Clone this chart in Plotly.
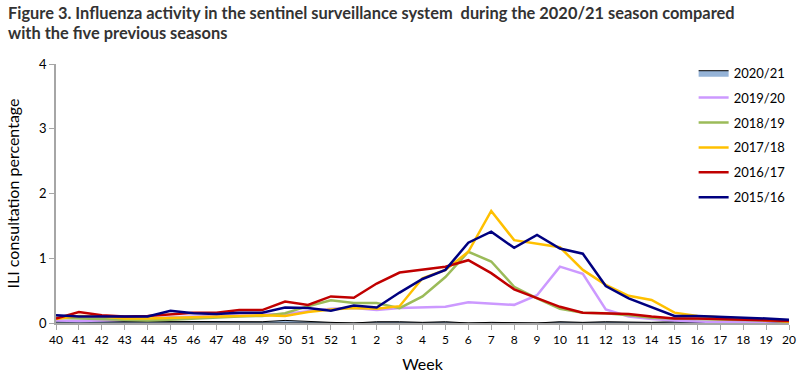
import plotly.graph_objects as go

weeks = ["40","41","42","43","44","45","46","47","48","49","50","51","52",
         "1","2","3","4","5","6","7","8","9","10","11","12","13","14","15","16","17","18","19","20"]

s2020_21 = [0.03,0.03,0.03,0.02,0.02,0.02,0.02,0.02,0.02,0.02,0.04,0.02,0.01,
            0.0,0.02,0.02,0.01,0.02,0.0,0.01,0.01,0.0,0.02,0.01,0.02,0.01,0.01,0.02,0.01,0.01,0.01,0.01,0.0]
s2019_20 = [0.04,0.03,0.04,0.05,0.06,0.09,0.10,0.11,0.12,0.13,0.14,0.18,0.22,
            0.23,0.20,0.23,0.24,0.25,0.32,0.30,0.28,0.43,0.87,0.76,0.21,0.10,0.06,0.04,0.02,0.01,0.01,0.02,0.03]
s2018_19 = [0.08,0.07,0.05,0.04,0.04,0.05,0.07,0.08,0.10,0.11,0.15,0.26,0.35,
            0.31,0.31,0.23,0.41,0.71,1.10,0.95,0.56,0.38,0.22,0.16,0.15,0.12,0.08,0.07,0.06,0.05,0.05,0.04,0.03]
s2017_18 = [0.06,0.11,0.10,0.07,0.07,0.08,0.10,0.10,0.11,0.12,0.11,0.17,0.21,
            0.23,0.22,0.26,0.69,0.82,1.10,1.73,1.28,1.22,1.17,0.82,0.59,0.42,0.355,0.16,0.11,0.09,0.07,0.05,0.02]
s2016_17 = [0.07,0.17,0.12,0.10,0.11,0.13,0.16,0.16,0.20,0.20,0.33,0.28,0.41,
            0.39,0.61,0.78,0.83,0.87,0.97,0.77,0.52,0.38,0.25,0.16,0.155,0.14,0.10,0.07,0.07,0.06,0.05,0.05,0.03]
s2015_16 = [0.12,0.10,0.10,0.10,0.10,0.19,0.15,0.14,0.16,0.16,0.24,0.23,0.19,
            0.27,0.24,0.47,0.68,0.82,1.24,1.41,1.16,1.36,1.15,1.07,0.57,0.38,0.24,0.11,0.11,0.10,0.09,0.07,0.05]

series_names = ["2020/21","2019/20","2018/19","2017/18","2016/17","2015/16"]
colors = ["#95B3D7","#CC99FF","#9BBB59","#FFC000","#C00000","#000080"]

title_line1 = "Figure 3. Influenza activity in the sentinel surveillance system  during the 2020/21 season compared"
title_line2 = "with the five previous seasons"

x = list(range(len(weeks)))
font = "Lato, 'DejaVu Sans', sans-serif"

fig = go.Figure()
# area for current season: closed polygon down to zero so the legend shows a box
area_x = x + x[::-1]
area_y = s2020_21 + [0] * len(x)
fig.add_trace(go.Scatter(x=area_x, y=area_y, name=series_names[0], mode="lines",
                         fill="toself", fillcolor=colors[0],
                         line=dict(color="#000000", width=1), legendgroup="a"))
for i, (nm, vals) in enumerate(zip(series_names[1:], [s2019_20, s2018_19, s2017_18, s2016_17, s2015_16])):
    fig.add_trace(go.Scatter(x=x, y=vals, name=nm, mode="lines",
                             line=dict(color=colors[i+1], width=2.5), legendgroup="g%d" % i))

title_font = dict(family=font, size=16.4, color="#333333")
fig.update_layout(
    width=800, height=376,
    margin=dict(l=56, r=10, t=64, b=53),
    paper_bgcolor="white", plot_bgcolor="white",
    font=dict(family=font, size=13, color="#000000"),
    legend=dict(x=0.8687, xanchor="left", y=1.0241, yanchor="top",
                tracegroupgap=5, traceorder="grouped",
                font=dict(family=font, size=13), bgcolor="rgba(0,0,0,0)"),
    showlegend=True,
    annotations=[
        dict(text="<b>%s</b>" % title_line1, xref="paper", yref="paper",
             x=-0.068, y=1.197, xanchor="left", yanchor="middle",
             align="left", showarrow=False, font=title_font),
        dict(text="<b>%s</b>" % title_line2, xref="paper", yref="paper",
             x=-0.068, y=1.1235, xanchor="left", yanchor="middle",
             align="left", showarrow=False, font=title_font),
    ],
)
fig.update_xaxes(range=[0, 32], tickmode="array", tickvals=x, ticktext=weeks,
                 showline=True, linecolor="#A6A6A6", linewidth=1.5,
                 ticks="outside", ticklen=5, tickcolor="#A6A6A6",
                 showgrid=False, zeroline=False, automargin=False,
                 title=dict(text="Week", standoff=13), tickfont=dict(size=12))
fig.update_yaxes(range=[0, 4], tickvals=[0,1,2,3,4],
                 showline=True, linecolor="#A6A6A6", linewidth=1.5,
                 ticks="outside", ticklen=5, tickcolor="#A6A6A6",
                 showgrid=False, zeroline=False, automargin=False,
                 title=dict(text="ILI consultation percentage", standoff=16), tickfont=dict(size=13))

fig.write_html("out.html", config={"displayModeBar": False},
               post_script="document.body.style.margin='0';")
